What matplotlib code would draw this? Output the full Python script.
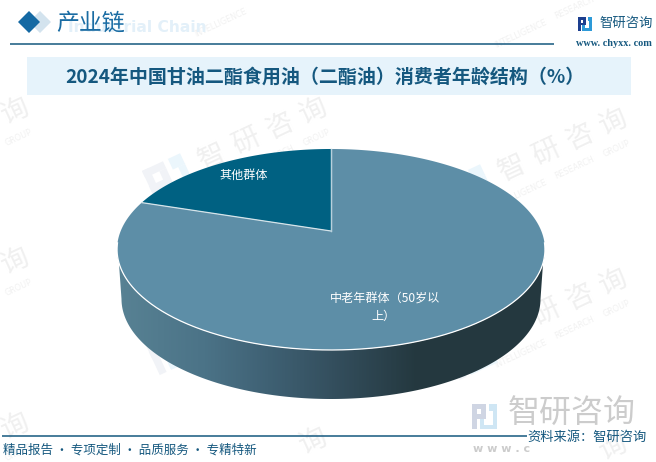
import numpy as np
import matplotlib
matplotlib.use("Agg")
import matplotlib.pyplot as plt
from matplotlib.patches import Polygon, Rectangle
from matplotlib.transforms import Affine2D
from matplotlib.colors import LinearSegmentedColormap

plt.rcParams['font.family'] = ['Noto Sans CJK SC', 'DejaVu Sans']

categories = ["其他群体", "中老年群体（50岁以上）"]
shares = [20, 80]
slice_colors = ["#006182", "#5d8ea7"]
label_lines = [["其他群体"], ["中老年群体（50岁以", "上）"]]
title = "2024年中国甘油二酯食用油（二酯油）消费者年龄结构（%）"

W, H = 656, 462
fig = plt.figure(figsize=(W / 100, H / 100), dpi=100)
ax = fig.add_axes([0, 0, 1, 1])
ax.set_xlim(0, W)
ax.set_ylim(H, 0)
ax.axis("off")

BLUE = "#15587f"
ROT = 25
ca, sa = np.cos(np.deg2rad(ROT)), np.sin(np.deg2rad(ROT))


def logo(x, y, s, rot, c1, c2, z=1):
    """Small brand mark, (x, y) top-left in pixels, s is its size."""
    tr = Affine2D().scale(s).rotate_deg(rot).translate(x, y) + ax.transData
    parts = [
        ((0.00, 0.00), 0.55, 0.18, c1), ((0.00, 0.00), 0.18, 1.00, c1),
        ((0.00, 0.40), 0.40, 0.18, c1), ((0.37, 0.18), 0.18, 0.40, c1),
        ((0.68, 0.00), 0.32, 0.28, c2), ((0.82, 0.28), 0.18, 0.72, c2),
        ((0.30, 0.82), 0.70, 0.18, c2), ((0.30, 0.60), 0.18, 0.40, c2),
    ]
    for xy, w, h, c in parts:
        ax.add_patch(Rectangle(xy, w, h, fc=c, ec="none", transform=tr, zorder=z))


def watermark(cx, cy):
    # Tiled stamp: only the pieces that fall inside the picture are drawn
    for i, ch in enumerate("智研咨询"):
        x = cx + (i - 1.5) * 37 * ca
        y = cy - (i - 1.5) * 37 * sa
        if 14 < x < W - 14 and 14 < y < H - 14:
            ax.text(x, y, ch, fontsize=20, color="#f0f0f0", rotation=ROT, rotation_mode="anchor",
                    ha="center", va="center", zorder=1)
    for off, word in [(-58, "INTELLIGENCE"), (2, "RESEARCH"), (48, "GROUP")]:
        half = len(word) * 2.6
        x = cx + 10 + off * ca
        y = cy + 24 - off * sa
        if half + 2 < x < W - half - 2 and 8 < y < H - 8:
            ax.text(x, y, word, fontsize=5.8, color="#f1f1f1", rotation=ROT, rotation_mode="anchor",
                    ha="center", va="center", family="DejaVu Sans", zorder=1)
    ox, oy = cx - 121, cy + 37
    if 0 < ox < W - 60 and 25 < oy < H:
        logo(ox, oy, 42, -ROT, "#f1f3f7", "#ebf6fc")


for c in [(263, 134), (563, 145), (-35, 134), (-35, 284), (263, 300), (563, 305),
          (-35, 449), (263, 464), (563, 470), (263, -26), (563, -15)]:
    watermark(*c)

# Header
ax.add_patch(Polygon([(18, 22), (29, 11), (40, 22), (29, 33)], fc="#d3e3ee", ec="none", zorder=3,
                     transform=Affine2D().translate(11, 0) + ax.transData))
ax.add_patch(Polygon([(18, 22), (29, 11), (40, 22), (29, 33)], fc="#1469a3", ec="none", zorder=4))
ax.text(68, 27, "Industrial Chain", fontsize=11.2, fontweight="bold", color="#e3f0f9",
        family="DejaVu Sans", ha="left", va="center", zorder=3)
ax.text(56, 23.5, "产业链", fontsize=16.5, color="#1a6ca3", ha="left", va="center", zorder=4)
ax.plot([10, 554], [43.5, 43.5], color=BLUE, lw=1.1, zorder=3, solid_capstyle="butt")
logo(578, 17, 14, 0, "#1d3f8f", "#2d9ad8", z=4)
ax.text(600, 23, "智研咨询", fontsize=9.6, color=BLUE, ha="left", va="center", zorder=4)
ax.text(576, 44, "www. chyxx. com", fontsize=7.4, color=BLUE, family="Liberation Serif",
        fontweight="bold", ha="left", va="center", zorder=4)

# Title band
ax.add_patch(Rectangle((27, 57), 604, 38, fc="#e6f3fb", ec="none", zorder=2))
ax.text(324.5, 77, title, fontsize=13.7, fontweight="bold", color=BLUE, ha="center", va="center", zorder=3)

# Perspective projection of the pie
CX, CY = 331, 231
A, B, K = 210.3, 97.1, 0.184


def project(theta):
    """theta in radians clockwise from the top of the disc."""
    u, v = np.sin(theta), np.cos(theta)
    w = 1 + K * v
    return CX + A * u / w, CY - B * v / w


fractions = np.cumsum([0] + shares) / sum(shares)
# The first slice ends at 12 o'clock, running clockwise towards it
starts = 2 * np.pi * (fractions[:-1] - fractions[1])

# Side wall
t = np.linspace(np.pi * 0.5 + 0.12, np.pi * 1.5 - 0.12, 300)
xt, yt = project(t)
xb = 331 + 209.5 * np.sin(np.linspace(np.pi * 0.5, np.pi * 1.5, 300))
yb = 299 - 100 * np.cos(np.linspace(np.pi * 0.5, np.pi * 1.5, 300))
side_xy = np.r_[np.c_[xt, yt], np.c_[xb, yb][::-1]]
side = Polygon(side_xy, fc="none", ec="none", zorder=4)
ax.add_patch(side)
cmap = LinearSegmentedColormap.from_list("side", [
    (0.0, "#588294"), (0.2, "#4b7387"), (0.35, "#3f6174"), (0.5, "#344f5e"),
    (0.7, "#24383f"), (1.0, "#24383f")])
img = ax.imshow(np.linspace(0, 1, 430)[None, :], cmap=cmap, extent=(117, 547, 400, 250),
                aspect="auto", zorder=4, vmin=0, vmax=1)
img.set_clip_path(side)
ax.set_xlim(0, W)
ax.set_ylim(H, 0)

# Top faces
for s0, frac, col in zip(starts, np.array(shares) / sum(shares), slice_colors):
    th = np.linspace(s0, s0 + 2 * np.pi * frac, 300)
    x, y = project(th)
    ax.add_patch(Polygon(np.r_[[(CX, CY)], np.c_[x, y]], fc=col, ec="none", zorder=5))
    x0, y0 = project(s0)
    ax.plot([CX, x0], [CY, y0], color="#d5e4ea", lw=0.9, zorder=6)
# Separator at 12 o'clock and bright front rim
ax.plot([CX, CX], [CY, 149], color="#b8d0dc", lw=0.9, zorder=6)
ax.plot(xt, yt, color="white", lw=0.9, zorder=6)

# Slice labels
ax.text(243.5, 175.5, label_lines[0][0], fontsize=8.7, color="white", ha="center", va="center", zorder=7)
ax.text(385, 299.5, label_lines[1][0], fontsize=8.7, color="white", ha="center", va="center", zorder=7)
ax.text(383, 316, label_lines[1][1], fontsize=8.7, color="white", ha="center", va="center", zorder=7)

# Footer
logo(472, 404, 25, 0, "#cfd5e3", "#cfe6f4", z=2)
ax.text(508, 413, "智研咨询", fontsize=23, color="#cccccc", ha="left", va="center", zorder=2)
ax.text(473, 449, "w w w . c", fontsize=8, color="#cccccc", family="DejaVu Sans",
        fontweight="bold", ha="left", va="center", zorder=2)
ax.plot([2, 527], [435.5, 435.5], color=BLUE, lw=1.1, zorder=3, solid_capstyle="butt")
ax.text(646.5, 437, "资料来源：智研咨询", fontsize=9.5, color=BLUE, ha="right", va="center", zorder=4)
ax.text(3, 450, "精品报告 · 专项定制 · 品质服务 · 专精特新", fontsize=9, color=BLUE, ha="left", va="center", zorder=4)

fig.savefig("out.png", dpi=100)
